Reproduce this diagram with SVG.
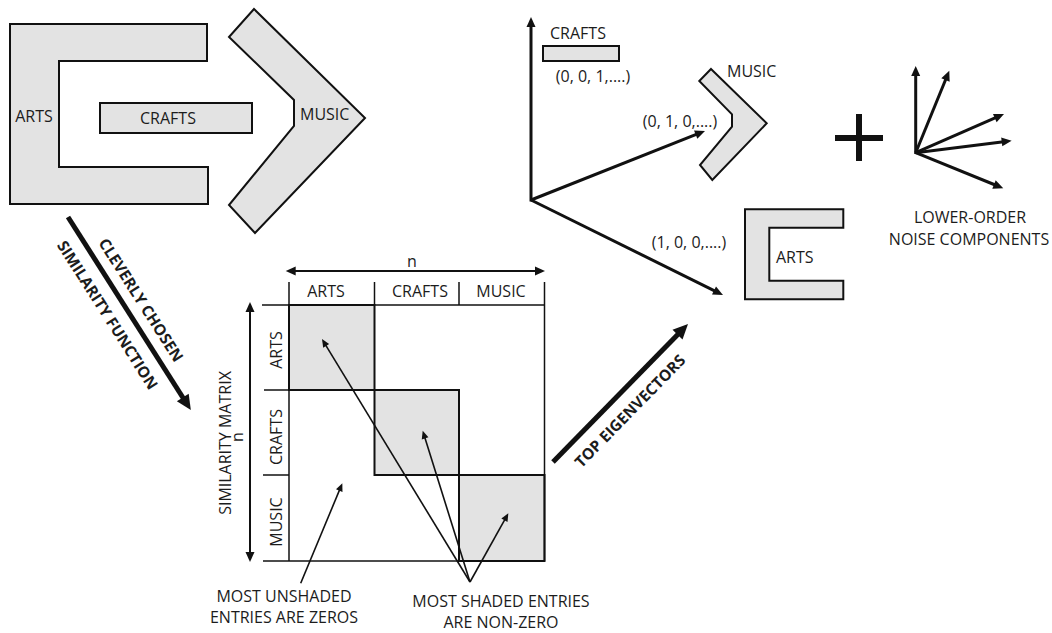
<svg xmlns="http://www.w3.org/2000/svg" width="1052" height="633" viewBox="0 0 1052 633">
  <defs>
    <style>
      text { font-family: "Open Sans", "Liberation Sans", sans-serif; font-size: 16px; fill: #1c1c1c; }
      .b { font-weight: bold; font-size: 15.5px; }
      .mid-t { text-anchor: middle; }
      .shape { fill: #e3e3e3; stroke: #111; stroke-width: 2; }
      .block { fill: #e3e3e3; stroke: #111; stroke-width: 2; }
      .grid { stroke: #111; stroke-width: 1.5; fill: none; }
      .big { stroke: #111; stroke-width: 5; fill: none; marker-end: url(#hBig); }
      .mid { stroke: #111; stroke-width: 3; fill: none; marker-end: url(#hMid); }
      .thin { stroke: #111; stroke-width: 1.6; fill: none; marker-end: url(#hThin); }
      .dim { stroke: #111; stroke-width: 2; fill: none; marker-start: url(#hDim); marker-end: url(#hDim); }
    </style>
    <marker id="hBig" markerUnits="userSpaceOnUse" orient="auto" refX="0" refY="0" markerWidth="20" markerHeight="20" overflow="visible">
      <path d="M-6,-7 L9,0 L-6,7 z" fill="#111"/>
    </marker>
    <marker id="hMid" markerUnits="userSpaceOnUse" orient="auto" refX="0" refY="0" markerWidth="12" markerHeight="12" overflow="visible">
      <path d="M-4,-4.5 L6,0 L-4,4.5 z" fill="#111"/>
    </marker>
    <marker id="hThin" markerUnits="userSpaceOnUse" orient="auto" refX="0" refY="0" markerWidth="10" markerHeight="10" overflow="visible">
      <path d="M-3,-3.5 L5,0 L-3,3.5 z" fill="#111"/>
    </marker>
    <marker id="hDim" markerUnits="userSpaceOnUse" orient="auto-start-reverse" refX="0" refY="0" markerWidth="12" markerHeight="12" overflow="visible">
      <path d="M-4,-4.5 L6,0 L-4,4.5 z" fill="#111"/>
    </marker>
  </defs>

  <rect width="1052" height="633" fill="#fff"/>

  <!-- Left: three categories as shapes -->
  <g id="arts-shape">
    <polygon class="shape" points="10,24 207,24 207,61 59,61 59,167 208,167 208,204 10,204"/>
    <text x="34" y="122" class="mid-t">ARTS</text>
  </g>
  <g id="crafts-shape">
    <rect class="shape" x="100" y="103" width="152" height="30"/>
    <text x="168" y="124" class="mid-t">CRAFTS</text>
  </g>
  <g id="music-shape">
    <polygon class="shape" points="254,9 365,118 255,233 229,205 294,126 294,100 229,37"/>
    <text x="300" y="120">MUSIC</text>
  </g>

  <!-- Similarity matrix -->
  <g id="matrix">
    <rect class="block" x="289" y="305" width="85.5" height="85"/>
    <rect class="block" x="374.5" y="390" width="84.5" height="85"/>
    <rect class="block" x="459" y="475" width="85.5" height="86"/>
    <line class="grid" x1="289" y1="282" x2="289" y2="561"/>
    <line class="grid" x1="374.5" y1="282" x2="374.5" y2="305"/>
    <line class="grid" x1="459" y1="282" x2="459" y2="305"/>
    <line class="grid" x1="544.5" y1="282" x2="544.5" y2="561"/>
    <line class="grid" x1="262" y1="305" x2="544.5" y2="305"/>
    <line class="grid" x1="264" y1="390" x2="289" y2="390"/>
    <line class="grid" x1="263" y1="475" x2="289" y2="475"/>
    <line class="grid" x1="263" y1="561" x2="544.5" y2="561"/>
    <text x="326" y="297" class="mid-t">ARTS</text>
    <text x="420" y="297" class="mid-t">CRAFTS</text>
    <text x="501" y="297" class="mid-t">MUSIC</text>
    <text transform="translate(282,350) rotate(-90)" class="mid-t">ARTS</text>
    <text transform="translate(282,437) rotate(-90)" class="mid-t">CRAFTS</text>
    <text transform="translate(282,522) rotate(-90)" class="mid-t">MUSIC</text>
    <text x="412" y="267" class="mid-t">n</text>
    <text transform="translate(243,437) rotate(-90)" class="mid-t">n</text>
    <text transform="translate(231,443) rotate(-90)" class="mid-t">SIMILARITY MATRIX</text>
  </g>

  <g id="matrix-notes">
    <text x="284" y="602" class="mid-t">MOST UNSHADED</text>
    <text x="284" y="623" class="mid-t">ENTRIES ARE ZEROS</text>
    <text x="501" y="607" class="mid-t">MOST SHADED ENTRIES</text>
    <text x="501" y="628" class="mid-t">ARE NON-ZERO</text>
  </g>

  <!-- Right: eigenvector space -->
  <g id="crafts-vector">
    <rect class="shape" x="543" y="46" width="76" height="15"/>
    <text x="578" y="39" class="mid-t">CRAFTS</text>
    <text x="593" y="82" class="mid-t">(0, 0, 1,....)</text>
  </g>
  <g id="music-vector">
    <polygon class="shape" points="711,69 766.7,123.3 712.3,180 700,165 732,126.7 732,114.3 699.3,81"/>
    <text x="727" y="77">MUSIC</text>
    <text x="680" y="127" class="mid-t">(0, 1, 0,....)</text>
  </g>
  <g id="arts-vector">
    <polygon class="shape" points="745,209.3 843.3,209.3 843.3,227.7 769.3,227.7 769.3,280.7 843.3,280.7 843.3,299.3 745,299.3"/>
    <text x="776" y="263">ARTS</text>
    <text x="689" y="248" class="mid-t">(1, 0, 0,....)</text>
  </g>
  <g id="plus">
    <rect x="835" y="135" width="48" height="6" fill="#111"/>
    <rect x="856" y="114" width="6" height="47" fill="#111"/>
  </g>
  <g id="noise">
    <text x="970" y="223" class="mid-t">LOWER-ORDER</text>
    <text x="969" y="245" class="mid-t">NOISE COMPONENTS</text>
  </g>

  <!-- Connectors -->
  <g id="connectors">
    <line class="big" x1="68" y1="217" x2="186" y2="402.5"/>
    <text transform="translate(141,300) rotate(57.5)" y="5.5" class="b mid-t">CLEVERLY CHOSEN</text>
    <text transform="translate(107.5,315) rotate(57.5)" y="5.5" class="b mid-t">SIMILARITY FUNCTION</text>

    <line class="big" x1="553" y1="462" x2="681.7" y2="330.4"/>
    <text transform="translate(630,411) rotate(-45.6)" y="5.5" class="b mid-t">TOP EIGENVECTORS</text>

    <line class="dim" x1="291.7" y1="271" x2="539" y2="271"/>
    <line class="dim" x1="250" y1="308" x2="250" y2="556"/>

    <line class="thin" x1="470" y1="582" x2="324.6" y2="343.3"/>
    <line class="thin" x1="470" y1="582" x2="424.2" y2="435.5"/>
    <line class="thin" x1="470" y1="582" x2="505.9" y2="517.7"/>
    <line class="thin" x1="300.7" y1="583.3" x2="340.4" y2="487.9"/>

    <line class="mid" x1="531" y1="201.5" x2="531" y2="23"/>
    <line class="mid" x1="531" y1="200" x2="699.4" y2="133.2"/>
    <line class="mid" x1="531" y1="200" x2="717.6" y2="292.3"/>

    <line class="mid" x1="915.7" y1="154" x2="915.7" y2="72"/>
    <line class="mid" x1="915.7" y1="152.7" x2="947" y2="76.3"/>
    <line class="mid" x1="915.7" y1="152.7" x2="998.5" y2="116.4"/>
    <line class="mid" x1="915.7" y1="152.7" x2="1005.7" y2="141.4"/>
    <line class="mid" x1="915.7" y1="152.7" x2="997.7" y2="186"/>
  </g>
</svg>
